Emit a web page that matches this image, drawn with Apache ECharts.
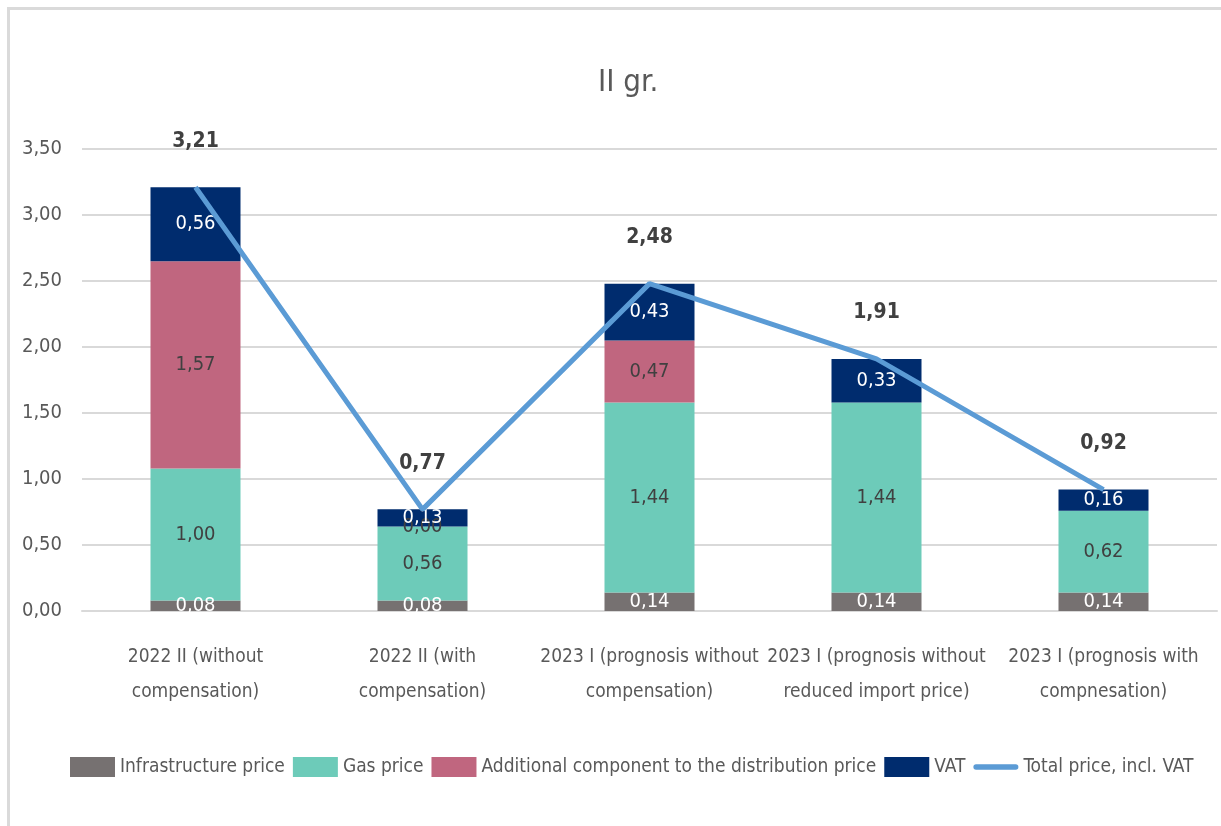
<!DOCTYPE html>
<html>
<head>
<meta charset="utf-8">
<title>II gr.</title>
<script src="https://cdn.jsdelivr.net/npm/echarts@6/dist/echarts.min.js"></script>
<style>
  html, body { margin: 0; padding: 0; background: #fff; }
  #frame { position: absolute; left: 7px; top: 7px; right: 0; bottom: 0; border-top: 3px solid #dadada; border-left: 3px solid #dadada; }
  #chart { position: absolute; left: 0; top: 0; width: 1221px; height: 826px; }
</style>
</head>
<body>
<div id="frame"></div>
<div id="chart"></div>
<script>
const categories = [
  '2022 II (without\ncompensation)',
  '2022 II (with\ncompensation)',
  '2023 I (prognosis without\ncompensation)',
  '2023 I (prognosis without\nreduced import price)',
  '2023 I (prognosis with\ncompnesation)'
]
const infrastructure = [0.08, 0.08, 0.14, 0.14, 0.14]
const gas = [1.00, 0.56, 1.44, 1.44, 0.62]
const additional = [1.57, 0.00, 0.47, null, null]
const vat = [0.56, 0.13, 0.43, 0.33, 0.16]
const total = [3.21, 0.77, 2.48, 1.91, 0.92]
const yTicks = [0, 0.5, 1, 1.5, 2, 2.5, 3, 3.5]

const font = "'DejaVu Sans Condensed', 'Liberation Sans Narrow', sans-serif"
const comma = v => Number(v).toFixed(2).replace('.', ',')

function barSeries (name, data, color, labelColor) {
  return {
    name: name,
    type: 'bar',
    stack: 'price',
    barWidth: 90,
    data: data,
    itemStyle: { color: color },
    label: {
      show: true,
      position: 'inside',
      color: labelColor,
      fontFamily: font,
      fontSize: 20,
      formatter: p => comma(p.value)
    }
  }
}

const chart = echarts.init(document.getElementById('chart'))
chart.setOption({
  animation: false,
  textStyle: { fontFamily: font },
  title: {
    text: 'II gr.',
    left: 593,
    top: 62,
    textStyle: { fontFamily: font, fontSize: 31, fontWeight: 'normal', color: '#595959' }
  },
  grid: { left: 82, right: 4, top: 149, bottom: 215 },
  legend: {
    bottom: 44,
    left: 65,
    itemWidth: 45,
    itemHeight: 20,
    itemGap: 8,
    textStyle: { fontFamily: font, fontSize: 19, color: '#595959', padding: [0, 0, 0, 0] },
    data: [
      { name: 'Infrastructure price', icon: 'rect' },
      { name: 'Gas price', icon: 'rect' },
      { name: 'Additional component to the distribution price', icon: 'rect' },
      { name: 'VAT', icon: 'rect' },
      { name: 'Total price, incl. VAT', icon: 'path://M3,0 L47,0 A3,3 0 0 1 47,6 L3,6 A3,3 0 0 1 3,0 Z' }
    ]
  },
  xAxis: {
    type: 'category',
    data: categories,
    axisTick: { show: false },
    axisLine: { lineStyle: { color: '#d9d9d9', width: 2 } },
    axisLabel: { color: '#595959', fontFamily: font, fontSize: 19, lineHeight: 35, margin: 29, interval: 0 }
  },
  yAxis: {
    type: 'value',
    min: yTicks[0],
    max: yTicks[yTicks.length - 1],
    interval: 0.5,
    axisLabel: { color: '#595959', fontFamily: font, fontSize: 20, margin: 20, formatter: v => comma(v) },
    splitLine: { lineStyle: { color: '#d9d9d9', width: 2 } }
  },
  series: [
    barSeries('Infrastructure price', infrastructure, '#767171', '#ffffff'),
    barSeries('Gas price', gas, '#6dcbb9', '#404040'),
    barSeries('Additional component to the distribution price', additional, '#c0667f', '#404040'),
    barSeries('VAT', vat, '#002c6e', '#ffffff'),
    {
      name: 'Total price, incl. VAT',
      type: 'line',
      data: total,
      symbol: 'circle',
      symbolSize: 1,
      showSymbol: true,
      lineStyle: { color: '#5b9bd5', width: 5 },
      itemStyle: { color: '#5b9bd5' },
      z: 5,
      label: {
        show: true,
        position: 'top',
        distance: 35,
        color: '#404040',
        fontFamily: font,
        fontSize: 21,
        fontWeight: 'bold',
        formatter: p => comma(p.value)
      }
    }
  ]
})
</script>
</body>
</html>
